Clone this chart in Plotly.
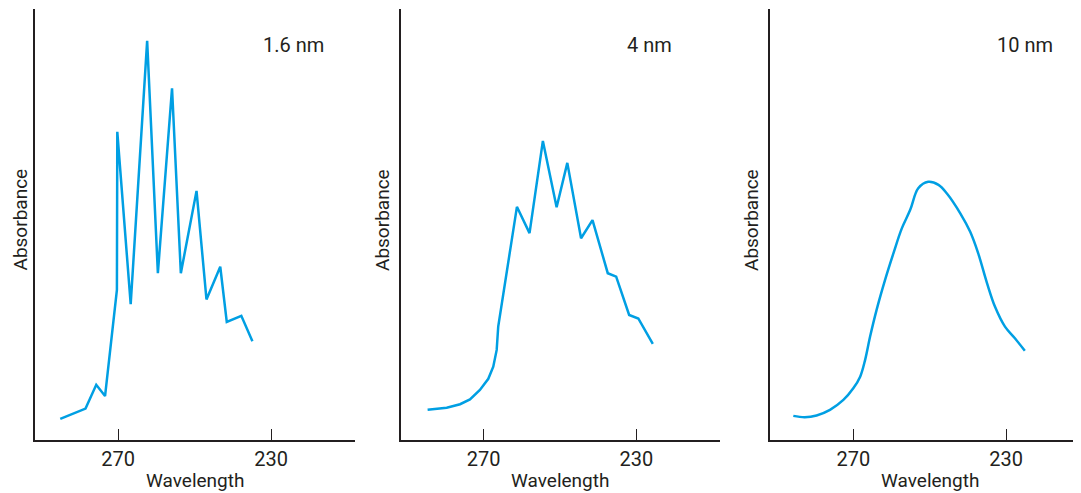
import plotly.graph_objects as go

# Panel 1: 1.6 nm slit
wl_16 = [285.1, 278.5, 275.7, 273.4, 270.3, 270.2, 266.7, 262.4, 259.6, 255.9, 253.6,
         249.5, 246.9, 243.3, 241.6, 237.8, 234.9]
abs_16 = [4.9, 7.3, 12.8, 10.2, 34.8, 71.5, 31.5, 92.6, 38.7, 81.6, 38.7,
          57.8, 32.6, 40.2, 27.4, 28.8, 22.9]

# Panel 2: 4 nm slit
wl_4 = [284.7, 279.7, 276.2, 273.6, 271.0, 268.8, 267.5, 266.6, 266.2, 261.3, 258.0,
        254.5, 250.9, 248.1, 244.5, 241.5, 237.5, 235.3, 231.9, 229.5, 225.7]
abs_4 = [7.0, 7.5, 8.3, 9.4, 11.6, 14.2, 17.0, 20.9, 26.3, 54.1, 48.0,
         69.4, 54.0, 64.3, 46.8, 51.0, 38.7, 37.9, 29.0, 28.2, 22.3]

# Panel 3: 10 nm slit
wl_10 = [285.7, 282.7, 279.6, 276.1, 272.6, 270.0, 268.2, 266.9, 265.6, 263.9, 261.7,
         259.5, 257.3, 255.1, 253.0, 250.4, 247.7, 245.5, 242.0, 239.4, 237.3, 235.0,
         232.9, 230.3, 227.7, 225.1]
abs_10 = [5.6, 5.3, 5.7, 7.0, 9.3, 12.0, 14.7, 18.6, 24.0, 30.2, 37.1,
          43.3, 49.1, 53.4, 58.4, 59.9, 59.2, 57.2, 52.6, 48.3, 43.3, 36.4,
          30.9, 26.3, 23.6, 20.7]

labels = ["1.6 nm", "4 nm", "10 nm"]
tick_vals = [270, 230]
tick_text = ["270", "230"]

OFF = 8  # page body margin
W, H = 1081 - OFF, 493 - OFF
LINE = "#009FE3"
INK = "#231F20"
FONT = "Roboto"


def px(xp):
    return (xp - OFF) / W


def py(yp):
    return 1 - (yp - OFF) / H


fig = go.Figure()

panels = [
    (wl_16, abs_16, "linear", 35, 355, [291.7, 208.1]),
    (wl_4, abs_4, "linear", 400.5, 720, [291.8, 208.1]),
    (wl_10, abs_10, "spline", 770, 1081, [291.8, 210.4]),
]
title_cx = [195, 560, 930]
ylab_x = [19.5, 382, 751]
ann_x = [293, 649, 1025]

top_px, bot_px = 9, 440
ydom = [py(bot_px), py(top_px)]

for i, (x, y, shape, l, r, xr) in enumerate(panels):
    n = "" if i == 0 else str(i + 1)
    fig.add_trace(go.Scatter(x=x, y=y, mode="lines",
                             line=dict(color=LINE, width=2.5, shape=shape),
                             xaxis="x" + n, yaxis="y" + n, showlegend=False))
    fig.layout["xaxis" + n] = dict(
        domain=[px(l), min(px(r), 1.0)], range=xr, showgrid=False, zeroline=False,
        showline=True, linecolor=INK, linewidth=1.5,
        tickvals=tick_vals, ticktext=tick_text, ticks="inside", ticklen=11,
        tickwidth=1.3, tickcolor=INK, anchor="y" + n,
        tickfont=dict(family=FONT, size=20, color=INK), ticklabelstandoff=0,
    )
    fig.layout["yaxis" + n] = dict(
        domain=ydom, range=[0, 100], showgrid=False, zeroline=False,
        showline=True, linecolor=INK, linewidth=1.5, showticklabels=False,
        ticks="", anchor="x" + n,
    )
    fig.add_annotation(text="Wavelength", x=px(title_cx[i]), y=py(480),
                       xref="paper", yref="paper", showarrow=False,
                       xanchor="center", yanchor="middle",
                       font=dict(family=FONT, size=19, color=INK))
    fig.add_annotation(text="Absorbance", x=px(ylab_x[i]), y=py(220),
                       xref="paper", yref="paper", showarrow=False, textangle=-90,
                       xanchor="center", yanchor="middle",
                       font=dict(family=FONT, size=19, color=INK))
    fig.add_annotation(text=labels[i], x=px(ann_x[i]), y=py(45), xref="paper", yref="paper",
                       showarrow=False, xanchor="center", yanchor="middle",
                       font=dict(family=FONT, size=20, color=INK))

fig.update_layout(width=W, height=H, margin=dict(l=0, r=0, t=0, b=0),
                  plot_bgcolor="white", paper_bgcolor="white")

fig.write_html("out.html")
